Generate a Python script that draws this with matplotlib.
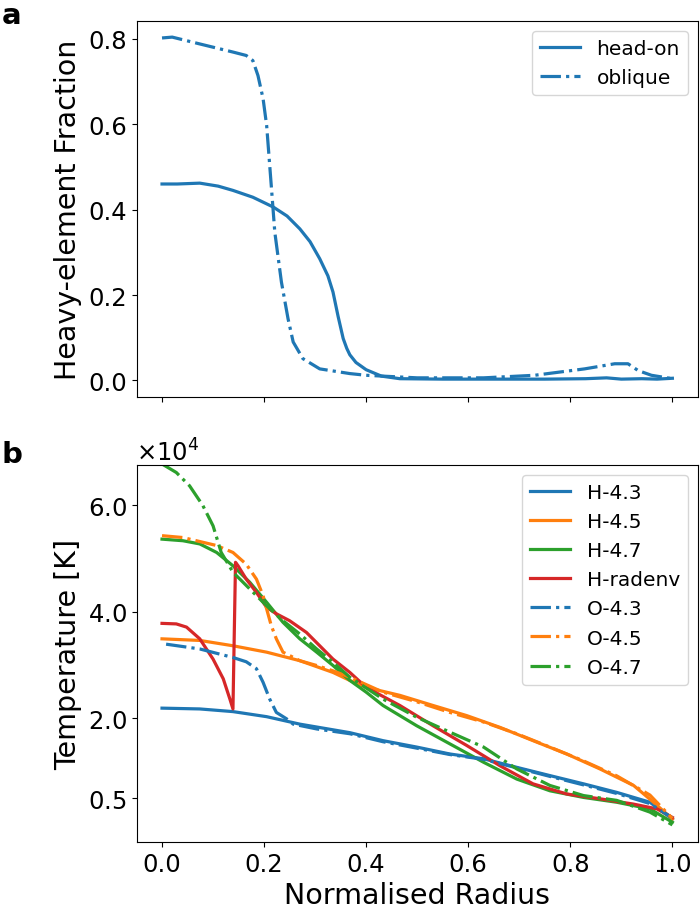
import matplotlib
matplotlib.use("Agg")
import matplotlib.pyplot as plt
from matplotlib.ticker import ScalarFormatter

# panel a: heavy-element fraction
head_x = [0.0, 0.03, 0.074, 0.11, 0.139, 0.178, 0.218, 0.245, 0.27, 0.29, 0.309, 0.325, 0.335, 0.345,
          0.355, 0.362, 0.368, 0.38, 0.4, 0.43, 0.466, 0.55, 0.65, 0.75, 0.83, 0.871, 0.9, 0.94, 0.97, 1.0]
head_y = [0.46, 0.46, 0.462, 0.455, 0.445, 0.429, 0.406, 0.385, 0.355, 0.325, 0.285, 0.245, 0.207, 0.15,
          0.098, 0.075, 0.06, 0.042, 0.025, 0.01, 0.004, 0.003, 0.003, 0.003, 0.004, 0.006, 0.003, 0.004, 0.003, 0.005]

obl_x = [0.0, 0.02, 0.074, 0.139, 0.165, 0.178, 0.188, 0.198, 0.205, 0.214, 0.221, 0.234, 0.247,
         0.257, 0.276, 0.309, 0.368, 0.4, 0.5, 0.63, 0.73, 0.828, 0.887, 0.913, 0.933, 0.959, 1.0]
obl_y = [0.802, 0.804, 0.788, 0.769, 0.761, 0.749, 0.714, 0.66, 0.597, 0.457, 0.347, 0.23, 0.144,
         0.09, 0.051, 0.027, 0.016, 0.012, 0.006, 0.006, 0.012, 0.027, 0.039, 0.039, 0.023, 0.012, 0.004]

# panel b: temperature profiles [K]
r_h43 = [0.0, 0.074, 0.139, 0.205, 0.27, 0.368, 0.433, 0.499, 0.564, 0.63, 0.695, 0.76, 0.826, 0.891, 0.956, 1.0]
t_h43 = [21900, 21750, 21250, 20300, 18900, 17300, 15800, 14600, 13300, 12400, 10800, 9250, 7700, 6100, 4250, 1100]

r_h45 = [0.0, 0.074, 0.139, 0.205, 0.27, 0.335, 0.368, 0.4, 0.466, 0.531, 0.597, 0.662, 0.727, 0.793, 0.858, 0.924, 0.963, 1.0]
t_h45 = [34900, 34600, 33600, 32400, 30800, 28600, 27100, 25800, 24300, 22400, 20500, 18300, 15800, 13300, 10500, 7400, 4250, 1100]

r_h47 = [0.0, 0.041, 0.074, 0.107, 0.139, 0.172, 0.205, 0.237, 0.27, 0.303, 0.335, 0.368, 0.4, 0.433,
         0.499, 0.564, 0.63, 0.695, 0.76, 0.826, 0.891, 0.956, 1.0]
t_h47 = [53600, 53300, 52700, 51100, 48600, 45500, 41750, 38000, 34900, 32400, 29900, 27100, 24900, 22400,
         18600, 15200, 11750, 8600, 6400, 5150, 4250, 3000, 500]

r_hrad = [0.0, 0.028, 0.048, 0.074, 0.1, 0.12, 0.133, 0.139, 0.144, 0.149, 0.165, 0.185, 0.205, 0.224, 0.25,
          0.283, 0.309, 0.335, 0.368, 0.4, 0.466, 0.531, 0.597, 0.662, 0.727, 0.793, 0.858, 0.924, 0.97, 1.0]
t_hrad = [37800, 37700, 37100, 34900, 31100, 27400, 23600, 21750, 49250, 48600, 46100, 43600, 40800, 39600, 38300,
          36100, 33600, 31100, 28600, 25800, 22400, 18600, 14900, 11100, 7700, 5800, 4900, 3900, 3000, 1400]

r_o43 = [0.008, 0.074, 0.139, 0.165, 0.185, 0.198, 0.211, 0.224, 0.244, 0.257, 0.303, 0.368, 0.433, 0.499,
         0.564, 0.63, 0.695, 0.76, 0.826, 0.891, 0.956, 1.0]
t_o43 = [33900, 33000, 31400, 30600, 29300, 26750, 23600, 21100, 19900, 18900, 18000, 17100, 15600, 14400,
         13200, 12300, 10700, 9100, 7500, 5900, 4000, 1300]

r_o45 = [0.0, 0.041, 0.107, 0.139, 0.165, 0.185, 0.198, 0.205, 0.214, 0.224, 0.237, 0.27, 0.303, 0.335, 0.368,
         0.433, 0.499, 0.564, 0.63, 0.695, 0.76, 0.826, 0.891, 0.956, 1.0]
t_o45 = [54250, 53900, 52400, 51100, 48900, 46100, 43000, 40500, 37400, 34900, 32400, 30800, 29900, 28900, 27700,
         24900, 23100, 21100, 19300, 17100, 14600, 12000, 9200, 5600, 1200]

r_o47 = [0.0, 0.028, 0.054, 0.08, 0.1, 0.116, 0.139, 0.172, 0.205, 0.237, 0.27, 0.303, 0.335, 0.368, 0.433,
         0.499, 0.564, 0.63, 0.695, 0.76, 0.826, 0.891, 0.956, 1.0]
t_o47 = [67700, 66100, 63600, 59900, 56100, 51100, 47400, 44250, 41100, 38300, 35800, 33000, 30500, 27700, 23600,
         20200, 17400, 14600, 10500, 7400, 5500, 4600, 2400, 0]

plt.rcParams['font.size'] = 17.5
plt.rcParams['axes.labelsize'] = 20.5

fig = plt.figure(figsize=(7, 9.12), dpi=100)
ax1 = fig.add_axes([0.195, 0.564, 0.802, 0.412])
ax2 = fig.add_axes([0.195, 0.0757, 0.802, 0.4133], sharex=ax1)

lw = 2.3
ax1.plot(head_x, head_y, color='C0', lw=lw, label='head-on')
ax1.plot(obl_x, obl_y, color='C0', lw=lw, ls='-.', label='oblique')
ax1.set_ylim(-0.038, 0.842)
ax1.set_yticks([0.0, 0.2, 0.4, 0.6, 0.8])
ax1.set_ylabel('Heavy-element Fraction')
ax1.tick_params(labelbottom=False)
ax1.legend(loc='upper right', fontsize=14.5)

ax2.plot(r_h43, t_h43, color='C0', lw=lw, label='H-4.3')
ax2.plot(r_h45, t_h45, color='C1', lw=lw, label='H-4.5')
ax2.plot(r_h47, t_h47, color='C2', lw=lw, label='H-4.7')
ax2.plot(r_hrad, t_hrad, color='C3', lw=lw, label='H-radenv')
ax2.plot(r_o43, t_o43, color='C0', lw=lw, ls='-.', label='O-4.3')
ax2.plot(r_o45, t_o45, color='C1', lw=lw, ls='-.', label='O-4.5')
ax2.plot(r_o47, t_o47, color='C2', lw=lw, ls='-.', label='O-4.7')
ax2.set_xlim(-0.05, 1.05)
ax2.set_ylim(-3200, 67500)
ax2.set_yticks([5000, 20000, 40000, 60000])
fmt = ScalarFormatter(useMathText=True)
fmt.set_powerlimits((0, 0))
ax2.yaxis.set_major_formatter(fmt)
ax2.set_xticks([0.0, 0.2, 0.4, 0.6, 0.8, 1.0])
ax2.set_xlabel('Normalised Radius')
ax2.set_ylabel('Temperature [K]')
ax2.legend(loc='upper right', fontsize=14.5)

fig.text(0.002, 0.998, 'a', weight='bold', fontsize=21, va='top', ha='left')
fig.text(0.002, 0.516, 'b', weight='bold', fontsize=21, va='top', ha='left')

plt.savefig('out.png')
